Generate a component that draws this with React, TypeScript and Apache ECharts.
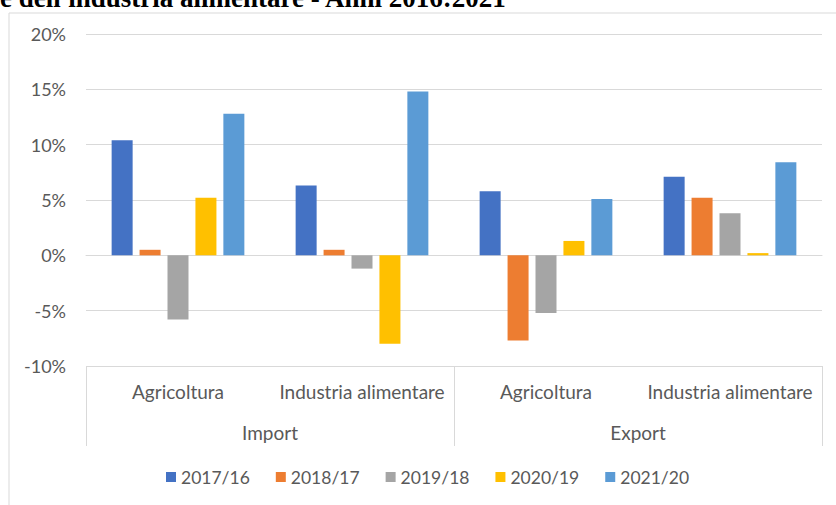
import React, { useEffect, useRef } from "react";
import * as echarts from "echarts";

const categories = ["Agricoltura", "Industria alimentare", "Agricoltura", "Industria alimentare"];
const groups = ["Import", "Export"];
const seriesNames = ["2017/16", "2018/17", "2019/18", "2020/19", "2021/20"];
const s2017 = [10.4, 6.3, 5.8, 7.1];
const s2018 = [0.5, 0.5, -7.7, 5.2];
const s2019 = [-5.8, -1.2, -5.2, 3.8];
const s2020 = [5.2, -8.0, 1.3, 0.2];
const s2021 = [12.8, 14.8, 5.1, 8.4];
const colors = ["#4472C4", "#ED7D31", "#A5A5A5", "#FFC000", "#5B9BD5"];
const yTicks = { min: -10, max: 20, interval: 5 };
const titleText = "e dell'industria alimentare - Anni 2016:2021";

export default function App() {
  const ref = useRef<HTMLDivElement>(null);
  useEffect(() => {
    if (!ref.current) return;
    const chart = echarts.init(ref.current, null, { renderer: "svg" });
    const values = [s2017, s2018, s2019, s2020, s2021];
    const font = "Lato";
    chart.setOption({
      animation: false,
      textStyle: { fontFamily: font },
      graphic: [
        {
          type: "rect",
          shape: { x: 9, y: 13, width: 900, height: 600 },
          style: { fill: "none", stroke: "#d9d9d9", lineWidth: 1 },
          silent: true,
          z: -10,
        },
        {
          type: "text",
          left: 0,
          top: -16,
          style: {
            text: titleText,
            font: "bold 27px 'Liberation Serif'",
            fill: "#000",
          },
        },
      ],
      legend: {
        data: seriesNames,
        bottom: 14,
        left: 161,
        icon: "rect",
        itemWidth: 10,
        itemHeight: 10,
        itemGap: 26,
        textStyle: { color: "#595959", fontSize: 17.5, fontFamily: font },
      },
      grid: { left: 86, right: 14, top: 34, bottom: 139, containLabel: false },
      xAxis: [
        {
          type: "category",
          data: categories,
          position: "bottom",
          axisLine: { show: true, lineStyle: { color: "#d9d9d9" } },
          axisTick: { show: false },
          axisLabel: { color: "#595959", fontSize: 19, margin: 16, interval: 0 },
        },
        {
          type: "category",
          data: groups,
          position: "bottom",
          axisLine: { show: false },
          axisTick: { show: true, length: 80, lineStyle: { color: "#d9d9d9" } },
          axisLabel: { color: "#595959", fontSize: 19, margin: 57 },
        },
      ],
      yAxis: {
        type: "value",
        min: yTicks.min,
        max: yTicks.max,
        interval: yTicks.interval,
        axisLine: { show: false },
        axisTick: { show: false },
        splitLine: { lineStyle: { color: "#d9d9d9" } },
        axisLabel: { formatter: "{value}%", color: "#595959", fontSize: 18, margin: 20 },
      },
      series: seriesNames.map((name, i) => ({
        name,
        type: "bar",
        xAxisIndex: 0,
        data: values[i],
        barWidth: 21,
        barGap: "33%",
        itemStyle: { color: colors[i] },
      })),
    });
    return () => chart.dispose();
  }, []);
  return (
    <div
      ref={ref}
      style={{ position: "fixed", left: 0, top: 0, width: 836, height: 505, background: "#fff" }}
    />
  );
}
